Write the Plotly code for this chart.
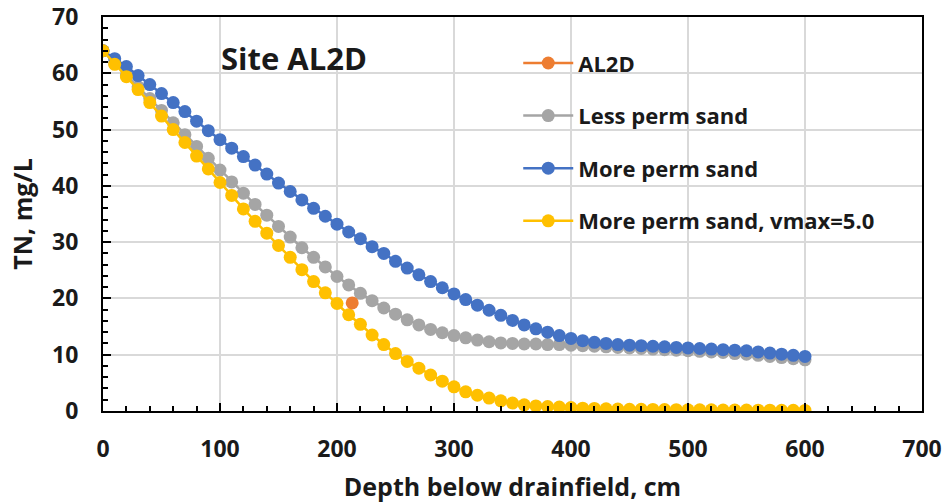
import plotly.graph_objects as go

depth = list(range(0, 610, 10))

less_perm = [64.0, 61.8, 59.7, 57.6, 55.5, 53.4, 51.2, 49.1, 47.0, 44.9,
             42.8, 40.7, 38.7, 36.7, 34.8, 32.8, 30.9, 29.0, 27.3, 25.6,
             23.9, 22.4, 20.9, 19.6, 18.3, 17.2, 16.2, 15.3, 14.5, 13.9,
             13.4, 13.0, 12.6, 12.3, 12.1, 12.0, 11.9, 11.9, 11.8, 11.8,
             11.7, 11.6, 11.5, 11.4, 11.3, 11.2, 11.1, 11.0, 10.9, 10.8,
             10.7, 10.6, 10.5, 10.4, 10.2, 10.1, 9.9, 9.7, 9.5, 9.3, 9.1]

more_perm = [64.0, 62.6, 61.2, 59.6, 58.0, 56.4, 54.8, 53.2, 51.5, 49.8,
             48.2, 46.7, 45.2, 43.7, 42.1, 40.5, 39.0, 37.5, 36.0, 34.6,
             33.2, 31.8, 30.6, 29.2, 28.0, 26.6, 25.4, 24.2, 23.0, 21.9,
             20.8, 19.8, 18.8, 17.9, 17.0, 16.1, 15.3, 14.6, 14.0, 13.4,
             12.9, 12.5, 12.2, 12.0, 11.8, 11.7, 11.6, 11.5, 11.4, 11.3,
             11.2, 11.1, 11.0, 10.9, 10.8, 10.7, 10.5, 10.3, 10.1, 9.9, 9.7]

more_perm_vmax = [64.0, 61.6, 59.4, 57.1, 54.8, 52.4, 50.0, 47.7, 45.3, 43.0,
                  40.6, 38.3, 35.9, 33.7, 31.6, 29.4, 27.3, 25.1, 23.0, 21.0,
                  19.1, 17.1, 15.4, 13.5, 11.8, 10.2, 8.8, 7.6, 6.4, 5.3,
                  4.3, 3.4, 2.8, 2.3, 1.8, 1.4, 1.1, 0.9, 0.8, 0.7,
                  0.6, 0.5, 0.45, 0.4, 0.35, 0.3, 0.3, 0.28, 0.26, 0.24,
                  0.22, 0.2, 0.2, 0.18, 0.17, 0.16, 0.15, 0.14, 0.13, 0.12, 0.1]

al2d_depth = [213]
al2d_tn = [19.2]

FONT = "Open Sans"
TXT = "#1a1a1a"

fig = go.Figure()

def add(x, y, name, color, rank):
    fig.add_trace(go.Scatter(
        x=x, y=y, name=name, mode="lines+markers",
        line=dict(color=color, width=2.5),
        marker=dict(color=color, size=13),
        legendrank=rank, legendgroup=name,
    ))

add(depth, less_perm, "Less perm sand", "#A5A5A5", 2)
add(depth, more_perm, "More perm sand", "#4472C4", 3)
add(depth, more_perm_vmax, "More perm sand, vmax=5.0", "#FFC000", 4)
add(al2d_depth, al2d_tn, "AL2D", "#ED7D31", 1)

fig.add_annotation(x=99, y=62.7, xref="x", yref="y", text="<b>Site AL2D</b>",
                   showarrow=False, xanchor="left", yanchor="middle",
                   font=dict(family=FONT, size=31, color=TXT))

axis_common = dict(
    showline=True, linecolor="black", linewidth=2, mirror=True,
    showgrid=True, gridcolor="#D9D9D9", gridwidth=1.5,
    zeroline=False, ticks="inside", ticklen=8, tickwidth=2, tickcolor="black",
    tickfont=dict(family=FONT, size=23, color=TXT, weight="bold"),
    automargin=False,
)

fig.update_xaxes(
    range=[0, 700], dtick=100, **axis_common,
    minor=dict(dtick=20, ticks="inside", ticklen=5, tickwidth=2, tickcolor="black", showgrid=False),
    ticklabelstandoff=16,
    title=dict(text="<b>Depth below drainfield, cm</b>", font=dict(family=FONT, size=25, color=TXT), standoff=17),
)
fig.update_yaxes(
    range=[0, 70], dtick=10, **axis_common,
    minor=dict(dtick=2, ticks="inside", ticklen=5, tickwidth=2, tickcolor="black", showgrid=False),
    ticklabelstandoff=18,
    title=dict(text="<b>TN, mg/L</b>", font=dict(family=FONT, size=25, color=TXT), standoff=12),
)

fig.update_layout(
    width=946, height=503,
    margin=dict(l=103, r=24, t=17, b=92),
    paper_bgcolor="white", plot_bgcolor="white",
    showlegend=True,
    legend=dict(
        x=0.507, y=0.936, xanchor="left", yanchor="top",
        bgcolor="rgba(0,0,0,0)",
        font=dict(family=FONT, size=22, color=TXT, weight="bold"),
        traceorder="grouped", tracegroupgap=21,
        itemwidth=50,
    ),
)

fig.write_html("out.html")
